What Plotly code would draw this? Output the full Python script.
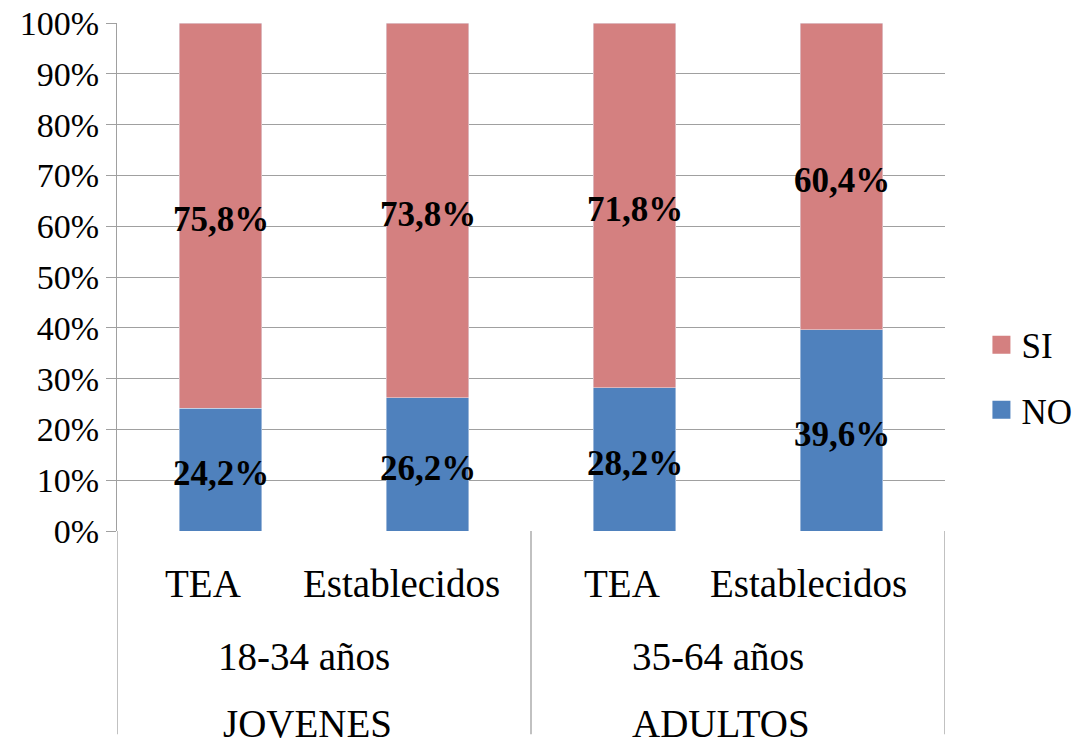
import plotly.graph_objects as go

# Survey shares by group (percent)
groups = ["JOVENES", "ADULTOS"]
age_ranges = ["18-34 años", "35-64 años"]
subcategories = ["TEA", "Establecidos", "TEA", "Establecidos"]
series_names = ["SI", "NO"]
si_values = [75.8, 73.8, 71.8, 60.4]
no_values = [24.2, 26.2, 28.2, 39.6]

SI_COLOR = "#D48080"
NO_COLOR = "#4F81BD"
GRID = "#A0A0A0"
FONT = "'Liberation Serif', 'Times New Roman', serif"

xpos = list(range(len(subcategories)))


def fmt(v):
    return f"{v:.1f}%".replace(".", ",")


fig = go.Figure()
fig.add_trace(go.Bar(x=xpos, y=no_values, name=series_names[1],
                     marker_color=NO_COLOR, width=0.4, showlegend=False))
fig.add_trace(go.Bar(x=xpos, y=si_values, name=series_names[0],
                     marker_color=SI_COLOR, width=0.4, showlegend=False))

# legend entries with larger square swatches, one legend box per series
for name, color, leg in [(series_names[0], SI_COLOR, "legend"),
                         (series_names[1], NO_COLOR, "legend2")]:
    fig.add_trace(go.Scatter(
        x=[None], y=[None], mode="markers", name=name, legend=leg,
        marker=dict(symbol="square", size=16, color=color,
                    line=dict(color=color, width=2))))

annotations = []

# value labels centred in each segment
label_font = dict(family=FONT, size=35, color="black", weight="bold")
for i in xpos:
    no, si = no_values[i], si_values[i]
    for val, mid in [(no, no / 2), (si, no + si / 2)]:
        annotations.append(dict(
            x=i, y=mid, xref="x", yref="y", text=fmt(val), showarrow=False,
            xanchor="center", yanchor="middle", yshift=-4, font=label_font))

axis_font = dict(family=FONT, size=39, color="black")
# first level of the category axis
sub_shift = [-18, -26, -13, -33]
for i, lab in enumerate(subcategories):
    annotations.append(dict(
        x=i, y=0, xref="x", yref="paper", text=lab, showarrow=False,
        xanchor="center", yanchor="middle", yshift=-52, xshift=sub_shift[i],
        font=axis_font))
# group levels
for g, (grp, rng) in enumerate(zip(groups, age_ranges)):
    cx = 2 * g + 0.5
    annotations.append(dict(
        x=cx, y=0, xref="x", yref="paper", text=rng, showarrow=False,
        xanchor="center", yanchor="middle", yshift=-125, xshift=-20,
        font=axis_font))
    annotations.append(dict(
        x=cx, y=0, xref="x", yref="paper", text=grp, showarrow=False,
        xanchor="center", yanchor="middle", yshift=-192, xshift=-17,
        font=axis_font))

# separators between category groups below the axis
shapes = []
for xb in [-0.5, 1.5, 3.5]:
    shapes.append(dict(type="line", xref="x", yref="paper", x0=xb, x1=xb,
                       y0=0, y1=-0.40, line=dict(color=GRID, width=1.3)))

legend_font = dict(family=FONT, size=35, color="black")
fig.update_layout(
    width=1076, height=746,
    margin=dict(l=117, r=131, t=23, b=215, autoexpand=False),
    paper_bgcolor="white", plot_bgcolor="white",
    barmode="stack", showlegend=True,
    font=dict(family=FONT, size=34, color="black"),
    annotations=annotations, shapes=shapes,
    legend=dict(x=1.044, y=0.366, xanchor="left", yanchor="middle",
                font=legend_font, bgcolor="rgba(0,0,0,0)"),
    legend2=dict(x=1.044, y=0.238, xanchor="left", yanchor="middle",
                 font=legend_font, bgcolor="rgba(0,0,0,0)"),
)
fig.update_xaxes(range=[-0.5, 3.5], showticklabels=False, showgrid=False,
                 zeroline=False, showline=False, ticks="")
fig.update_yaxes(range=[0, 100], tickvals=list(range(0, 101, 10)),
                 ticktext=[f"{v}%" for v in range(0, 101, 10)],
                 showgrid=True, gridcolor=GRID, gridwidth=1.3,
                 showline=True, linecolor=GRID, linewidth=1.3,
                 ticks="outside", ticklen=10, tickcolor=GRID, tickwidth=1.3,
                 zeroline=False, tickfont=dict(family=FONT, size=34, color="black"))

fig.write_html("out.html")
